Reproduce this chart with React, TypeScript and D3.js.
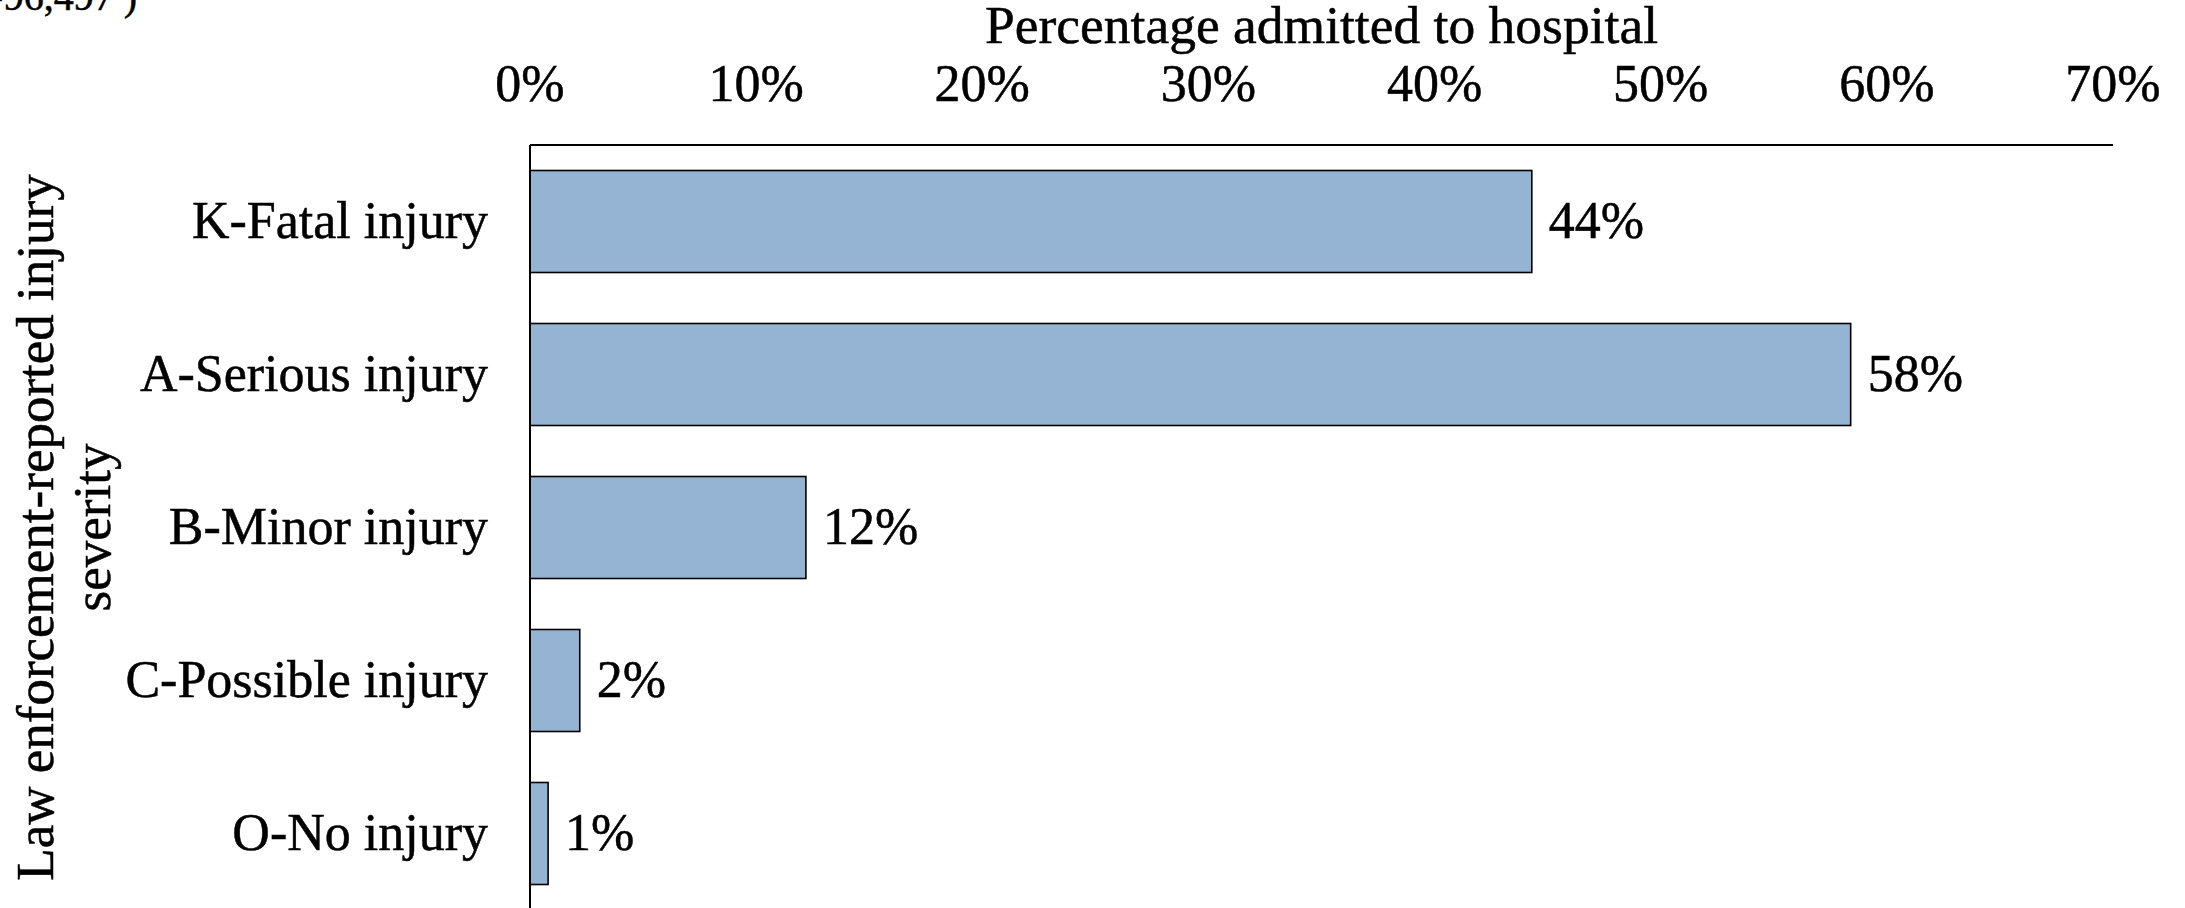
import React from "react";
import * as d3 from "d3";

const categories = ["K-Fatal injury", "A-Serious injury", "B-Minor injury", "C-Possible injury", "O-No injury"];
const admittedShare = [0.443, 0.584, 0.122, 0.022, 0.008];
const xTicks = [0, 0.1, 0.2, 0.3, 0.4, 0.5, 0.6, 0.7];
const xTitle = "Percentage admitted to hospital";
const yTitleLines = ["Law enforcement-reported injury", "severity"];
const topNote = "(N=96,497 )";

const W = 2185;
const H = 908;
const FONT = "'Liberation Serif', 'Times New Roman', serif";
const FS = 52;

export default function App() {
  const x = d3.scaleLinear().domain([0, 0.7]).range([530, 2113]);
  const y = d3.scaleBand<string>().domain(categories).range([145, 910]).paddingInner(1 / 3).paddingOuter(1 / 6);
  const fmt = d3.format(".0%");
  const yMid = (145 + 910) / 2;
  const ink = { fill: "#000", stroke: "#000", strokeWidth: 0.5 };

  return (
    <svg width={W} height={H} style={{ position: "absolute", left: 0, top: 0, background: "#fff" }} fontFamily={FONT}>
      <rect x={0} y={0} width={W} height={H} fill="#fff" />
      <text x={137} y={10} fontSize={40} textAnchor="end" {...ink}>{topNote}</text>
      <text x={(x(0) + x(0.7)) / 2} y={43} fontSize={53.5} textAnchor="middle" {...ink}>{xTitle}</text>
      {xTicks.map((t) => (
        <text key={t} x={x(t)} y={101} fontSize={FS} textAnchor="middle" {...ink}>{fmt(t)}</text>
      ))}
      {categories.map((c, i) => (
        <g key={c}>
          <rect x={x(0)} y={y(c)!} width={x(admittedShare[i]) - x(0)} height={y.bandwidth()} fill="#95b4d3" stroke="#000" strokeWidth={1.6} />
          <text x={x(0) - 42} y={y(c)! + y.bandwidth() / 2 + 16} fontSize={FS} textAnchor="end" {...ink}>{c}</text>
          <text x={x(admittedShare[i]) + 17} y={y(c)! + y.bandwidth() / 2 + 16} fontSize={FS} textAnchor="start" {...ink}>{fmt(admittedShare[i])}</text>
        </g>
      ))}
      <line x1={x(0)} x2={x(0.7)} y1={145} y2={145} stroke="#000" strokeWidth={2} />
      <line x1={x(0)} x2={x(0)} y1={145} y2={910} stroke="#000" strokeWidth={2} />
      {yTitleLines.map((l, i) => (
        <text key={i} transform={`translate(${53 + i * 57},${yMid}) rotate(-90)`} fontSize={53} textAnchor="middle" {...ink}>{l}</text>
      ))}
    </svg>
  );
}
